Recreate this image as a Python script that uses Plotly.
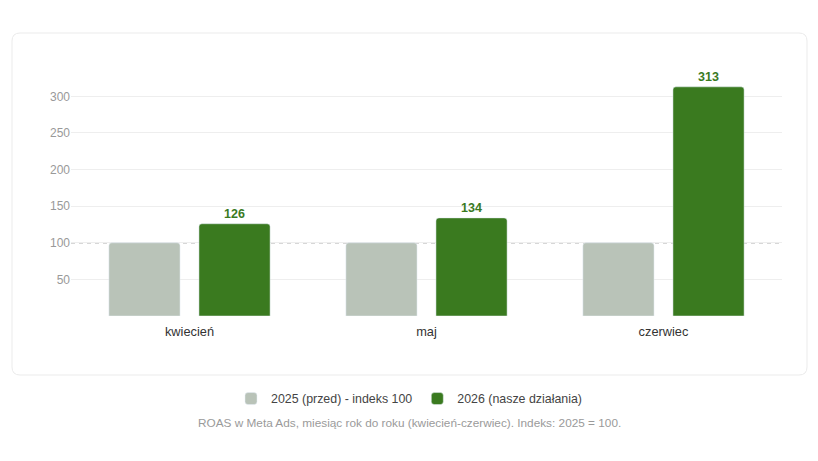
import plotly.graph_objects as go

# data
months = ["kwiecień", "maj", "czerwiec"]
roas_2025 = [100, 100, 100]
roas_2026 = [126, 134, 313]
y_ticks = [50, 100, 150, 200, 250, 300]
caption = "ROAS w Meta Ads, miesiąc rok do roku (kwiecień-czerwiec). Indeks: 2025 = 100."

GRAY = "#b9c3b8"
GREEN = "#3a7a1f"
FONT = "Liberation Sans, Arial, sans-serif"

fig = go.Figure()
fig.add_trace(go.Bar(x=months, y=roas_2025, name="2025 (przed) - indeks 100",
                     marker=dict(color=GRAY, cornerradius=3), hoverinfo="skip"))
fig.add_trace(go.Bar(x=months, y=roas_2026, name="2026 (nasze działania)",
                     marker=dict(color=GREEN, cornerradius=3),
                     text=roas_2026, textposition="outside", cliponaxis=False,
                     textfont=dict(color=GREEN, size=12.5, family=FONT, weight="bold")))

# plot area: x 71..782, y 70..316 in pixels
L, R, T, B = 71, 36, 70, 145
pw, ph = 818 - L - R, 461 - T - B


def px(x):
    return (x - L) / pw


def py(y):
    return (461 - B - y) / ph


# rounded card behind the plot
x0, x1, y0, y1 = px(12), px(807), py(33), py(375)
rx, ry = 8 / pw, 8 / ph
card = (f"M{x0 + rx},{y0} L{x1 - rx},{y0} Q{x1},{y0} {x1},{y0 - ry} "
        f"L{x1},{y1 + ry} Q{x1},{y1} {x1 - rx},{y1} L{x0 + rx},{y1} "
        f"Q{x0},{y1} {x0},{y1 + ry} L{x0},{y0 - ry} Q{x0},{y0} {x0 + rx},{y0} Z")
fig.add_shape(type="path", path=card, xref="paper", yref="paper",
              line=dict(color="#ebebeb", width=1), fillcolor="rgba(0,0,0,0)", layer="below")

# index 100 reference line
fig.add_shape(type="line", xref="paper", x0=0, x1=1, y0=100, y1=100,
              line=dict(color="#b0b0b0", width=1.2, dash="4px,4px"), layer="between")

fig.add_annotation(text=caption, xref="paper", yref="paper", x=px(409), y=py(423),
                   xanchor="center", yanchor="middle", showarrow=False,
                   font=dict(family=FONT, size=11.8, color="#9a9a9a"))

fig.update_layout(
    width=818, height=461,
    margin=dict(l=L, r=R, t=T, b=B),
    paper_bgcolor="white", plot_bgcolor="white",
    font=dict(family=FONT),
    barmode="group", bargap=0.24, bargroupgap=0.21,
    showlegend=True,
    legend=dict(orientation="h", x=px(409), xanchor="center", y=py(399), yanchor="middle",
                font=dict(size=12.4, color="#444444"), itemclick=False, itemwidth=30),
    xaxis=dict(showline=False, ticks="", ticklabelstandoff=6,
               tickfont=dict(size=12.8, color="#333333")),
    yaxis=dict(range=[0, 336], tickvals=y_ticks, showgrid=True, gridcolor="#eeeeee",
               zeroline=False, showline=False, tickfont=dict(size=12, color="#999999")),
)

fig.write_html("out.html", config={"displayModeBar": False},
               post_script="document.body.style.margin='0';")
